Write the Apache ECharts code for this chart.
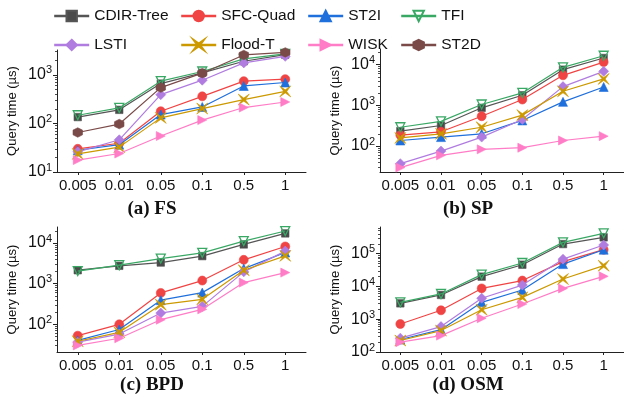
<!DOCTYPE html>
<html>
<head>
<meta charset="utf-8">
<script src="https://cdn.jsdelivr.net/npm/echarts@6/dist/echarts.min.js"></script>
<style>
html,body{margin:0;padding:0;background:#fff;}
#chart{width:624px;height:405px;}
</style>
</head>
<body>
<div id="chart"></div>
<script>
// ---------- data ----------
const categories = ['0.005', '0.01', '0.05', '0.1', '0.5', '1'];
const methods = ['CDIR-Tree', 'SFC-Quad', 'ST2I', 'TFI', 'LSTI', 'Flood-T', 'WISK', 'ST2D'];
const panelTitles = ['(a) FS', '(b) SP', '(c) BPD', '(d) OSM'];

// (a) FS
const fsCdirTree = [135, 190, 660, 1100, 1900, 2600];
const fsSfcQuad  = [30, 39, 178, 360, 740, 815];
const fsSt2i     = [28, 36.5, 152, 218, 590, 695];
const fsTfi      = [147, 208, 740, 1170, 2130, 2700];
const fsLsti     = [26, 46, 390, 775, 1760, 2400];
const fsFloodT   = [23.6, 32.5, 130, 202, 309, 456];
const fsWisk     = [17.6, 24, 55, 117, 212, 276];
const fsSt2d     = [65, 97, 545, 1080, 2560, 2890];

// (b) SP
const spCdirTree = [232, 320, 870, 1770, 7540, 14600];
const spSfcQuad  = [186, 224, 541, 1390, 5480, 11600];
const spSt2i     = [137, 166, 200, 426, 1220, 2830];
const spTfi      = [290, 405, 1050, 2020, 8600, 16600];
const spLsti     = [36.8, 75, 166, 450, 2890, 6850];
const spFloodT   = [158, 200, 290, 575, 2220, 4460];
const spWisk     = [29.5, 59, 83, 91, 137, 175];

// (c) BPD
const bpdCdirTree = [2140, 2750, 3310, 4770, 9250, 17300];
const bpdSfcQuad  = [52, 99, 590, 1190, 3860, 8250];
const bpdSt2i     = [40, 74, 390, 600, 2350, 5850];
const bpdTfi      = [2030, 2850, 4150, 5750, 11200, 19800];
const bpdLsti     = [36, 57, 188, 275, 1950, 6330];
const bpdFloodT   = [38, 63, 303, 410, 2140, 4850];
const bpdWisk     = [30, 45, 129, 232, 1060, 1870];

// (d) OSM
const osmCdirTree = [3050, 5500, 19900, 46000, 196000, 314000];
const osmSfcQuad  = [715, 1870, 8700, 15100, 57000, 132000];
const osmSt2i     = [240, 480, 3270, 7800, 48000, 132000];
const osmTfi      = [3270, 5900, 22900, 51800, 221000, 417000];
const osmLsti     = [264, 596, 4360, 11000, 68000, 183000];
const osmFloodT   = [224, 450, 1950, 4650, 16800, 43000];
const osmWisk     = [200, 316, 1070, 2900, 8700, 20300];

const panelData = [
  [fsCdirTree, fsSfcQuad, fsSt2i, fsTfi, fsLsti, fsFloodT, fsWisk, fsSt2d],
  [spCdirTree, spSfcQuad, spSt2i, spTfi, spLsti, spFloodT, spWisk, null],
  [bpdCdirTree, bpdSfcQuad, bpdSt2i, bpdTfi, bpdLsti, bpdFloodT, bpdWisk, null],
  [osmCdirTree, osmSfcQuad, osmSt2i, osmTfi, osmLsti, osmFloodT, osmWisk, null]
];

// y-axis extents and tick values
const yMin = [10, 23, 20.6, 100];
const yMax = [3240, 24300, 24900, 650000];
const yMajor = [[10, 100, 1000], [100, 1000, 10000], [100, 1000, 10000], [100, 1000, 10000, 100000]];

// ---------- styles ----------
const styles = [
  {color: '#555555', fill: '#4a4a4a', symbol: 'rect', size: 7.5},
  {color: '#f04444', fill: '#f04444', symbol: 'circle', size: 9},
  {color: '#1f6fdc', fill: '#1f6fdc', symbol: 'triangle', size: 9},
  {color: '#3aa865', fill: 'none', symbol: 'path://M0,0 L10,0 L5,9 Z', size: 9},
  {color: '#b07ce0', fill: '#b07ce0', symbol: 'diamond', size: 10},
  {color: '#cc9900', fill: '#cc9900', symbol: 'path://M0,0 L5,3.6 L10,0 L6.4,5 L10,10 L5,6.4 L0,10 L3.6,5 Z', size: 11},
  {color: '#ff7cc6', fill: '#ff7cc6', symbol: 'path://M0,0 L9,5 L0,10 Z', size: 9},
  {color: '#7a4a48', fill: '#7a4a48', symbol: 'path://M5,0 L9.33,2.5 L9.33,7.5 L5,10 L0.67,7.5 L0.67,2.5 Z', size: 9.5}
];

const grids = [
  {left: 57, top: 50, width: 249, height: 122},
  {left: 380, top: 49, width: 249, height: 123},
  {left: 57, top: 227, width: 249, height: 125},
  {left: 380, top: 227, width: 249, height: 125}
];

function minorTicks(min, max) {
  const out = [];
  for (let e = -1; e < 7; e++) {
    for (let k = 2; k <= 9; k++) {
      const v = k * Math.pow(10, e);
      if (v > min && v < max) out.push(v);
    }
  }
  return out;
}

const FONT = 'Liberation Sans, Arial, sans-serif';
const xAxis = [], yAxis = [], series = [];
grids.forEach((g, i) => {
  xAxis.push({
    type: 'category', gridIndex: i, data: categories, boundaryGap: true,
    axisLine: {lineStyle: {color: '#222', width: 1}},
    axisTick: {show: true, alignWithLabel: true, length: 3, lineStyle: {color: '#222'}},
    axisLabel: {fontFamily: FONT, fontSize: 15, color: '#111', margin: 6, interval: 0},
    splitLine: {show: false}
  });
  yAxis.push({
    type: 'log', gridIndex: i, min: yMin[i], max: yMax[i], logBase: 10,
    name: 'Query time (µs)', nameLocation: 'middle', nameGap: 38,
    nameTextStyle: {fontFamily: FONT, fontSize: 13, color: '#111'},
    axisLine: {show: true, lineStyle: {color: '#222', width: 1}},
    axisTick: {show: true, length: 4, customValues: yMajor[i], lineStyle: {color: '#222'}},
    axisLabel: {
      customValues: yMajor[i], margin: 5,
      formatter: v => '{b|10}{s|' + Math.round(Math.log10(v)) + '}',
      rich: {
        b: {fontFamily: FONT, fontSize: 16, color: '#111', lineHeight: 20},
        s: {fontFamily: FONT, fontSize: 11, color: '#111', verticalAlign: 'top', lineHeight: 20}
      }
    },
    splitLine: {show: false}
  });
});
// minor tick axes
grids.forEach((g, i) => {
  yAxis.push({
    type: 'log', gridIndex: i, min: yMin[i], max: yMax[i], logBase: 10, position: 'left',
    axisLine: {show: false},
    axisTick: {show: true, length: 2, customValues: minorTicks(yMin[i], yMax[i]), lineStyle: {color: '#222', width: 0.8}},
    axisLabel: {show: false},
    splitLine: {show: false}
  });
});
panelData.forEach((arrs, i) => {
  arrs.forEach((vals, m) => {
    if (!vals) return;
    const s = styles[m];
    series.push({
      name: methods[m], type: 'line', xAxisIndex: i, yAxisIndex: i,
      data: vals, symbol: s.symbol, symbolSize: s.size,
      lineStyle: {color: s.color, width: 1.2},
      itemStyle: {color: s.fill, borderColor: s.color, borderWidth: s.fill === 'none' ? 1.3 : 0.6},
      emphasis: {disabled: true}, animation: false, z: 2 + m
    });
  });
});

const legendCols = [[0, 4], [1, 5], [2, 6], [3, 7]];
const legendLeft = [48, 175, 302, 395];
const legend = legendCols.map((col, c) => ({
  orient: 'vertical', left: legendLeft[c], top: 2,
  data: col.map(k => methods[k]),
  itemWidth: 35, itemHeight: 13, itemGap: 11,
  lineStyle: {width: 2.4},
  textStyle: {fontFamily: FONT, fontSize: 15.5, color: '#111', lineHeight: 18},
  selectedMode: false
}));

const titlePos = [[152, 209], [468, 209], [152, 385], [468, 385]];
const graphic = panelTitles.map((t, i) => ({
  type: 'text', x: titlePos[i][0], y: titlePos[i][1],
  style: {text: t, textAlign: 'center', textVerticalAlign: 'middle',
    font: 'bold 19px "Liberation Serif", "DejaVu Serif", serif', fill: '#111'}
}));

const chart = echarts.init(document.getElementById('chart'), null, {renderer: 'canvas'});
chart.setOption({
  animation: false,
  backgroundColor: '#fff',
  grid: grids,
  xAxis, yAxis, series, legend, graphic
});
</script>
</body>
</html>
